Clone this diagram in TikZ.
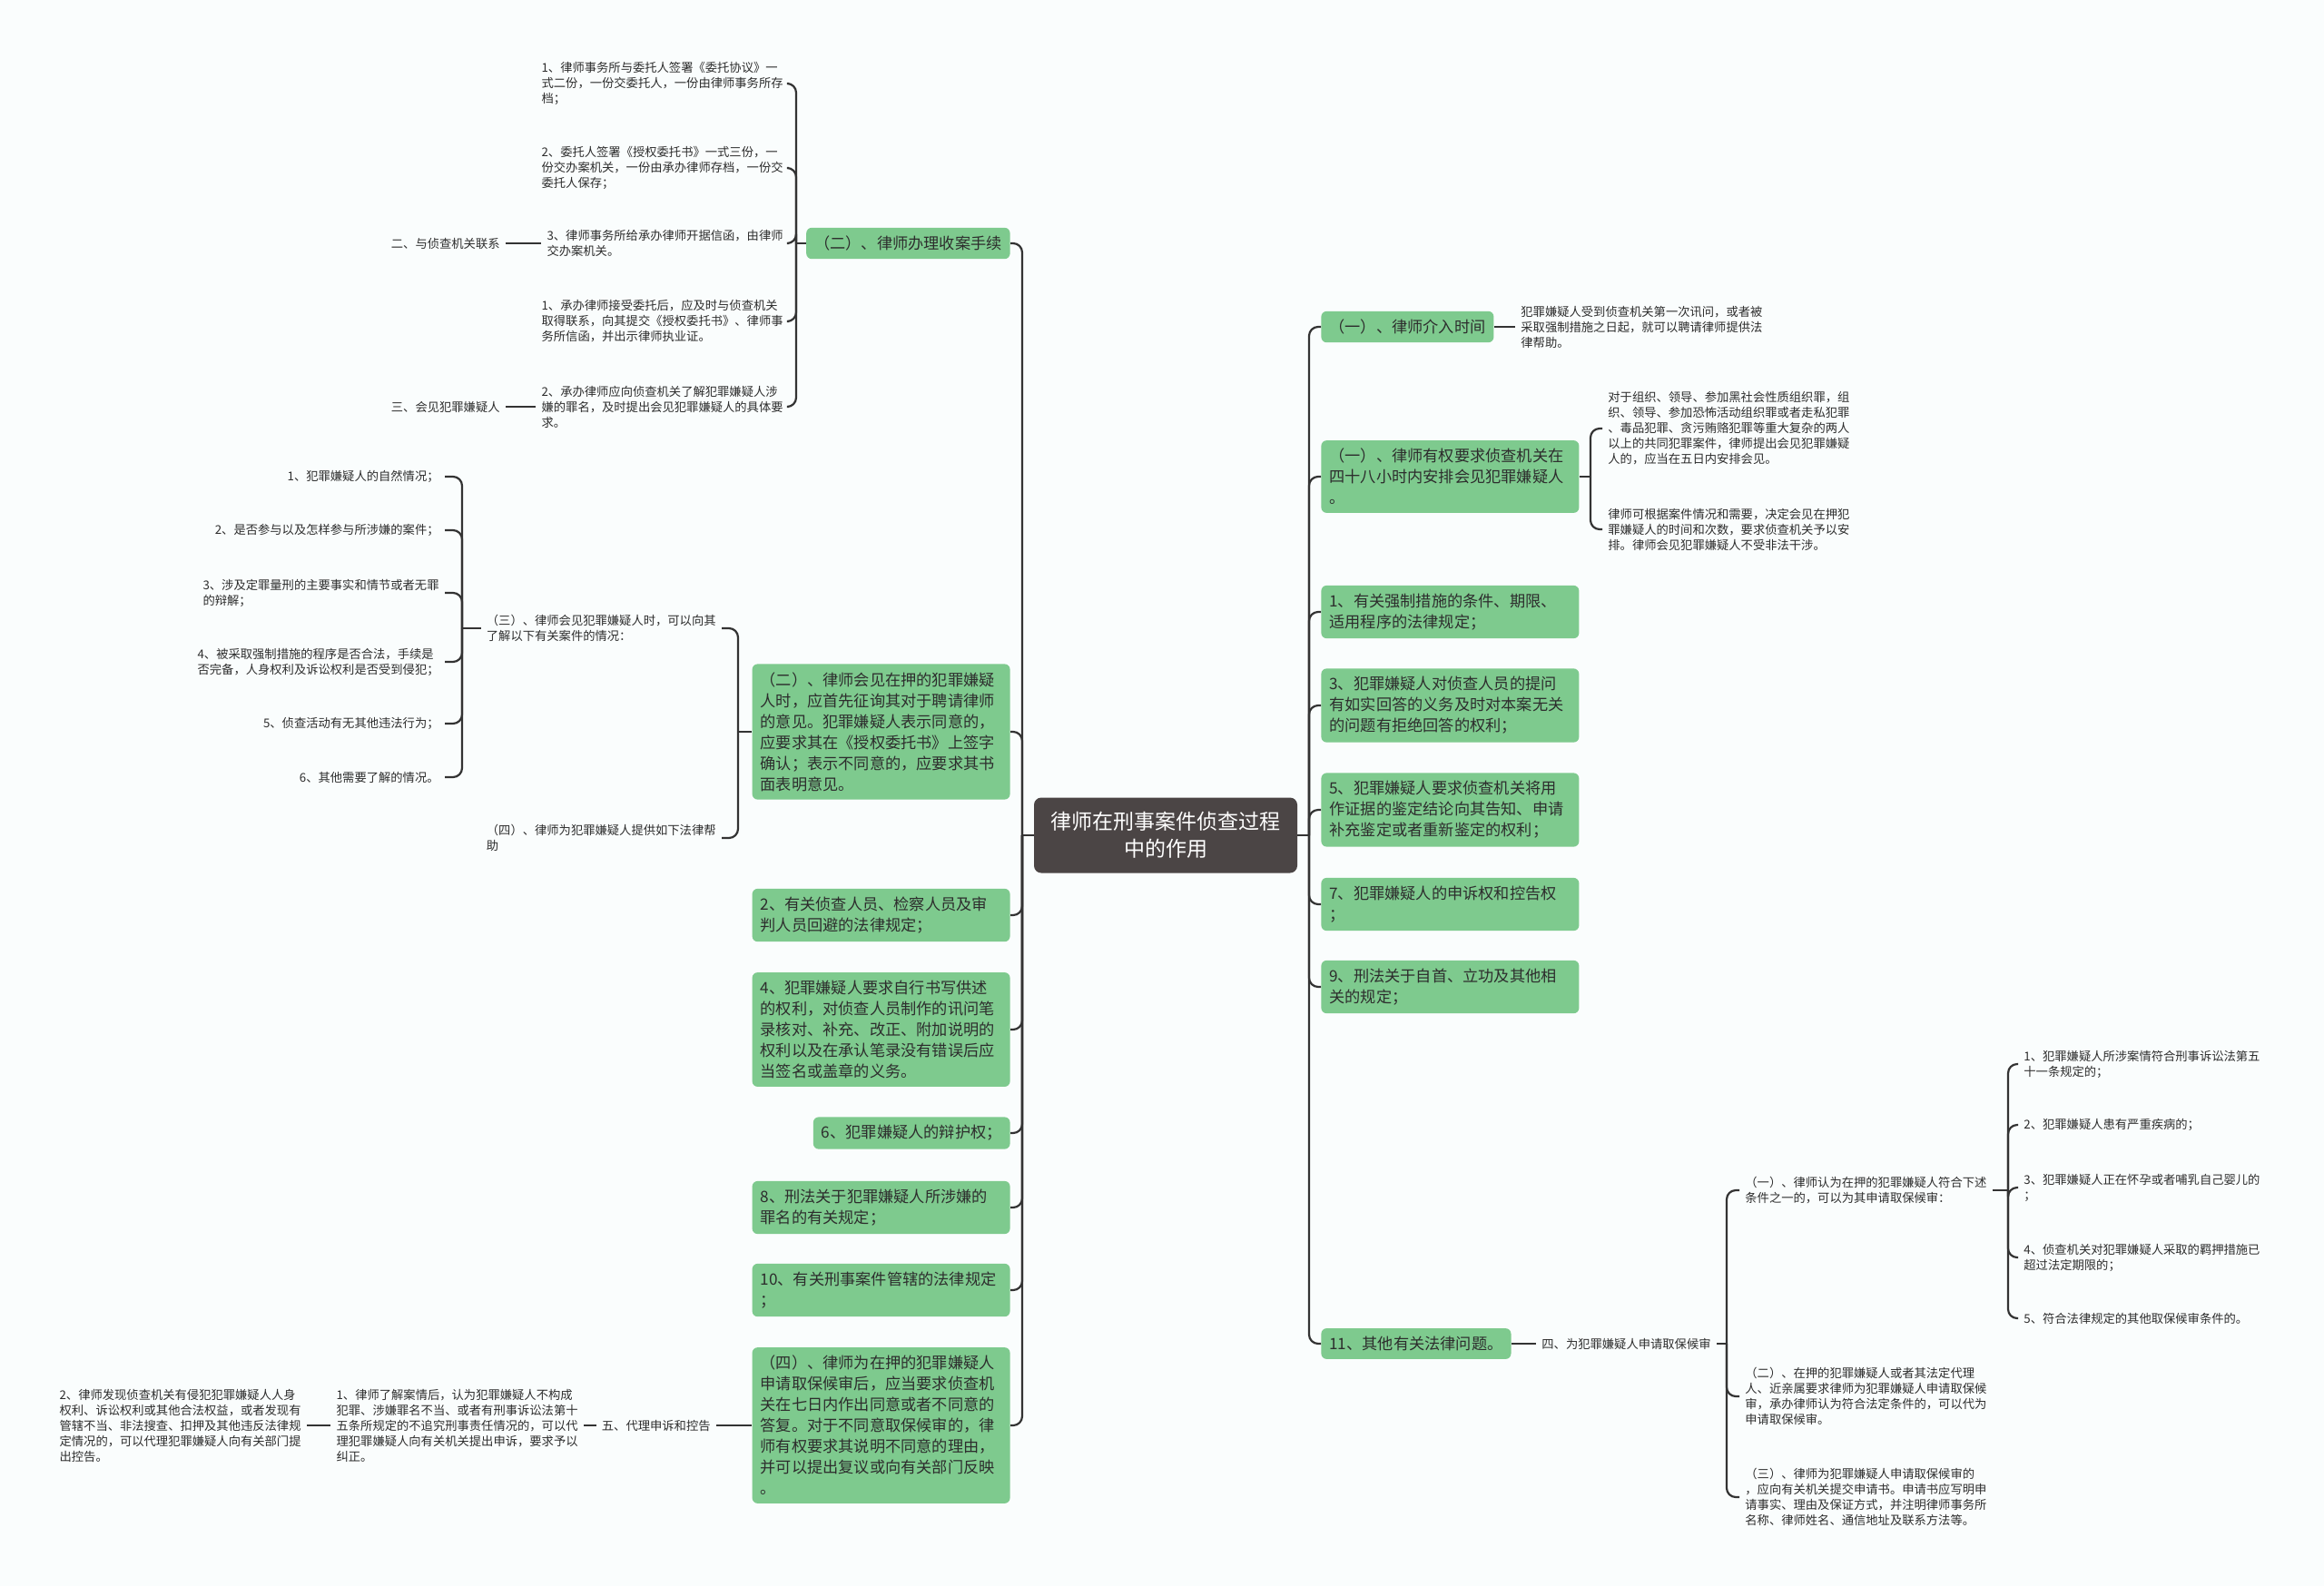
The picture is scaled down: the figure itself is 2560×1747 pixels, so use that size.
\documentclass[tikz,border=0pt]{standalone}
\usepackage{fontspec}
\newfontfamily\zhfont{Noto Sans CJK SC}
\definecolor{RootGray}{RGB}{75,69,69}
\definecolor{LeafGreen}{RGB}{126,202,142}
\definecolor{LinkGray}{RGB}{51,51,51}
\definecolor{InkGray}{RGB}{45,45,45}
\definecolor{PaperWhite}{RGB}{250,253,253}
\tikzset{
  root/.style={fill=RootGray,text=white,rounded corners=4pt,align=center,minimum width=145pt,minimum height=41.5pt,font=\zhfont\fontsize{11.5}{15}\selectfont},
  gbox/.style={fill=LeafGreen,text=InkGray,rounded corners=3pt,align=left,inner xsep=4.5pt,inner ysep=4.5pt,font=\zhfont\fontsize{8.6}{11.5}\selectfont},
  gwide/.style={gbox,text width=133pt},
  leaf/.style={text=InkGray,align=left,inner xsep=3pt,inner ysep=1pt,font=\zhfont\fontsize{6.65}{8.5}\selectfont},
  link/.style={draw=LinkGray,line width=1.1pt},
  elbow/.style={link,rounded corners=5pt}
}
\begin{document}
\begin{tikzpicture}[x=.5pt,y=-.5pt]
\fill[PaperWhite] (0,0) rectangle (2560,1747);
\useasboundingbox (0,0) rectangle (2560,1747);
\node[root] (root) at (1284,920) {律师在刑事案件侦查过程\\中的作用};
% left branch
\node[gbox,anchor=east] (shou) at (1113,268) {（二）、律师办理收案手续};
\node[gwide,anchor=east] (huijian) at (1113,806) {（二）、律师会见在押的犯罪嫌疑\\人时，应首先征询其对于聘请律师\\的意见。犯罪嫌疑人表示同意的，\\应要求其在《授权委托书》上签字\\确认；表示不同意的，应要求其书\\面表明意见。};
\node[gwide,anchor=east] (huibi) at (1113,1008) {2、有关侦查人员、检察人员及审\\判人员回避的法律规定；};
\node[gwide,anchor=east] (gongshu) at (1113,1134) {4、犯罪嫌疑人要求自行书写供述\\的权利，对侦查人员制作的讯问笔\\录核对、补充、改正、附加说明的\\权利以及在承认笔录没有错误后应\\当签名或盖章的义务。};
\node[gbox,anchor=east] (bianhu) at (1113,1248) {6、犯罪嫌疑人的辩护权；};
\node[gwide,anchor=east] (zuiming) at (1113,1330) {8、刑法关于犯罪嫌疑人所涉嫌的\\罪名的有关规定；};
\node[gwide,anchor=east] (guanxia) at (1113,1421) {10、有关刑事案件管辖的法律规定\\；};
\node[gwide,anchor=east] (qubao) at (1113,1570) {（四）、律师为在押的犯罪嫌疑人\\申请取保候审后，应当要求侦查机\\关在七日内作出同意或者不同意的\\答复。对于不同意取保候审的，律\\师有权要求其说明不同意的理由，\\并可以提出复议或向有关部门反映\\。};
% right branch
\node[gbox,anchor=west] (jieru) at (1455,360) {（一）、律师介入时间};
\node[gwide,anchor=west] (sishiba) at (1455,525) {（一）、律师有权要求侦查机关在\\四十八小时内安排会见犯罪嫌疑人\\。};
\node[gwide,anchor=west] (qiangzhi) at (1455,674) {1、有关强制措施的条件、期限、\\适用程序的法律规定；};
\node[gwide,anchor=west] (huida) at (1455,777) {3、犯罪嫌疑人对侦查人员的提问\\有如实回答的义务及时对本案无关\\的问题有拒绝回答的权利；};
\node[gwide,anchor=west] (jianding) at (1455,892) {5、犯罪嫌疑人要求侦查机关将用\\作证据的鉴定结论向其告知、申请\\补充鉴定或者重新鉴定的权利；};
\node[gwide,anchor=west] (shensu) at (1455,996) {7、犯罪嫌疑人的申诉权和控告权\\；};
\node[gwide,anchor=west] (zishou) at (1455,1087) {9、刑法关于自首、立功及其他相\\关的规定；};
\node[gbox,anchor=west] (qita) at (1455,1480) {11、其他有关法律问题。};
\coordinate (jl) at (1126,920); \coordinate (jr) at (1442,920);
\draw[link] (root.west) -- (jl); \draw[link] (root.east) -- (jr);
\foreach \n in {shou,huijian,huibi,gongshu,bianhu,zuiming,guanxia,qubao} \draw[elbow] (jl) |- (\n.east);
\foreach \n in {jieru,sishiba,qiangzhi,huida,jianding,shensu,zishou,qita} \draw[elbow] (jr) |- (\n.west);
% 收案手续
\node[leaf,anchor=east] (xieyi) at (869,92) {1、律师事务所与委托人签署《委托协议》一\\式二份，一份交委托人，一份由律师事务所存\\档；};
\node[leaf,anchor=east] (weituo) at (869,185) {2、委托人签署《授权委托书》一式三份，一\\份交办案机关，一份由承办律师存档，一份交\\委托人保存；};
\node[leaf,anchor=east] (xinhan) at (869,268) {3、律师事务所给承办律师开据信函，由律师\\交办案机关。};
\node[leaf,anchor=east] (lianxi) at (869,354) {1、承办律师接受委托后，应及时与侦查机关\\取得联系，向其提交《授权委托书》、律师事\\务所信函，并出示律师执业证。};
\node[leaf,anchor=east] (yaoqiu) at (869,448) {2、承办律师应向侦查机关了解犯罪嫌疑人涉\\嫌的罪名，及时提出会见犯罪嫌疑人的具体要\\求。};
\coordinate (ja) at (877,268);
\draw[link] (shou.west) -- (ja);
\foreach \n in {xieyi,weituo,xinhan,lianxi,yaoqiu} \draw[elbow] (ja) |- (\n.east);
\node[leaf,anchor=east] (lianxiT) at (557,268) {二、与侦查机关联系};
\node[leaf,anchor=east] (huijianT) at (557,448) {三、会见犯罪嫌疑人};
\draw[link] (xinhan.west) -- (lianxiT.east); \draw[link] (yaoqiu.west) -- (huijianT.east);
% 会见
\node[leaf,anchor=east] (liaojie) at (795,692) {（三）、律师会见犯罪嫌疑人时，可以向其\\了解以下有关案件的情况：};
\node[leaf,anchor=east] (bangzhu) at (795,923) {（四）、律师为犯罪嫌疑人提供如下法律帮\\助};
\coordinate (jb) at (813,806);
\draw[link] (huijian.west) -- (jb);
\foreach \n in {liaojie,bangzhu} \draw[elbow] (jb) |- (\n.east);
\node[leaf,anchor=east] (ziran) at (490,525) {1、犯罪嫌疑人的自然情况；};
\node[leaf,anchor=east] (canyu) at (490,584) {2、是否参与以及怎样参与所涉嫌的案件；};
\node[leaf,anchor=east] (shishi) at (490,653) {3、涉及定罪量刑的主要事实和情节或者无罪\\的辩解；};
\node[leaf,anchor=east] (hefa) at (490,729) {4、被采取强制措施的程序是否合法，手续是\\否完备，人身权利及诉讼权利是否受到侵犯；};
\node[leaf,anchor=east] (weifa) at (490,797) {5、侦查活动有无其他违法行为；};
\node[leaf,anchor=east] (qingkuang) at (490,856) {6、其他需要了解的情况。};
\coordinate (jc) at (509,692);
\draw[link] (liaojie.west) -- (jc);
\foreach \n in {ziran,canyu,shishi,hefa,weifa,qingkuang} \draw[elbow] (jc) |- (\n.east);
% 申诉控告
\node[leaf,anchor=east] (daili) at (789,1570) {五、代理申诉和控告};
\node[leaf,anchor=east] (jiuzheng) at (643,1570) {1、律师了解案情后，认为犯罪嫌疑人不构成\\犯罪、涉嫌罪名不当、或者有刑事诉讼法第十\\五条所规定的不追究刑事责任情况的，可以代\\理犯罪嫌疑人向有关机关提出申诉，要求予以\\纠正。};
\node[leaf,anchor=east] (konggao) at (338,1570) {2、律师发现侦查机关有侵犯犯罪嫌疑人人身\\权利、诉讼权利或其他合法权益，或者发现有\\管辖不当、非法搜查、扣押及其他违反法律规\\定情况的，可以代理犯罪嫌疑人向有关部门提\\出控告。};
\draw[link] (qubao.west) -- (daili.east); \draw[link] (daili.west) -- (jiuzheng.east); \draw[link] (jiuzheng.west) -- (konggao.east);
% 介入 / 四十八小时
\node[leaf,anchor=west] (jieruT) at (1669,360) {犯罪嫌疑人受到侦查机关第一次讯问，或者被\\采取强制措施之日起，就可以聘请律师提供法\\律帮助。};
\draw[link] (jieru.east) -- (jieruT.west);
\node[leaf,anchor=west] (wuri) at (1765,472) {对于组织、领导、参加黑社会性质组织罪，组\\织、领导、参加恐怖活动组织罪或者走私犯罪\\、毒品犯罪、贪污贿赂犯罪等重大复杂的两人\\以上的共同犯罪案件，律师提出会见犯罪嫌疑\\人的，应当在五日内安排会见。};
\node[leaf,anchor=west] (ganshe) at (1765,583) {律师可根据案件情况和需要，决定会见在押犯\\罪嫌疑人的时间和次数，要求侦查机关予以安\\排。律师会见犯罪嫌疑人不受非法干涉。};
\coordinate (jd) at (1752,525);
\draw[link] (sishiba.east) -- (jd);
\foreach \n in {wuri,ganshe} \draw[elbow] (jd) |- (\n.west);
% 取保候审
\node[leaf,anchor=west] (sqqb) at (1692,1480) {四、为犯罪嫌疑人申请取保候审};
\draw[link] (qita.east) -- (sqqb.west);
\node[leaf,anchor=west] (tiaojian) at (1916,1311) {（一）、律师认为在押的犯罪嫌疑人符合下述\\条件之一的，可以为其申请取保候审：};
\node[leaf,anchor=west] (daiwei) at (1916,1538) {（二）、在押的犯罪嫌疑人或者其法定代理\\人、近亲属要求律师为犯罪嫌疑人申请取保候\\审，承办律师认为符合法定条件的，可以代为\\申请取保候审。};
\node[leaf,anchor=west] (shenqing) at (1916,1649) {（三）、律师为犯罪嫌疑人申请取保候审的\\，应向有关机关提交申请书。申请书应写明申\\请事实、理由及保证方式，并注明律师事务所\\名称、律师姓名、通信地址及联系方法等。};
\coordinate (je) at (1902,1480);
\draw[link] (sqqb.east) -- (je);
\foreach \n in {tiaojian,daiwei,shenqing} \draw[elbow] (je) |- (\n.west);
\node[leaf,anchor=west] (wushiyi) at (2223,1172) {1、犯罪嫌疑人所涉案情符合刑事诉讼法第五\\十一条规定的；};
\node[leaf,anchor=west] (jibing) at (2223,1239) {2、犯罪嫌疑人患有严重疾病的；};
\node[leaf,anchor=west] (huaiyun) at (2223,1308) {3、犯罪嫌疑人正在怀孕或者哺乳自己婴儿的\\；};
\node[leaf,anchor=west] (qixian) at (2223,1385) {4、侦查机关对犯罪嫌疑人采取的羁押措施已\\超过法定期限的；};
\node[leaf,anchor=west] (qitatj) at (2223,1452) {5、符合法律规定的其他取保候审条件的。};
\coordinate (jf) at (2212,1311);
\draw[link] (tiaojian.east) -- (jf);
\foreach \n in {wushiyi,jibing,huaiyun,qixian,qitatj} \draw[elbow] (jf) |- (\n.west);
\end{tikzpicture}
\end{document}
